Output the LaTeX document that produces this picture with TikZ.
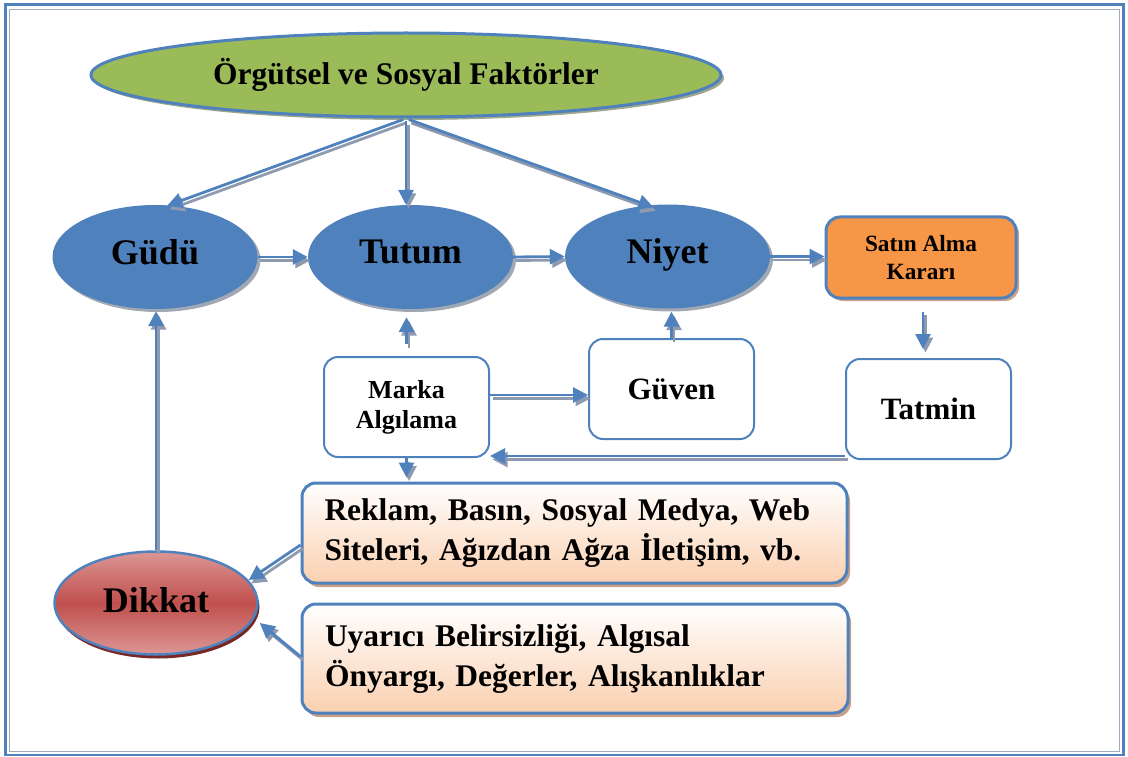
\documentclass[tikz,border=0pt]{standalone}
\usepackage{fontspec}
\setmainfont{Liberation Serif}
\usetikzlibrary{shapes.geometric,shadows,arrows.meta,calc}

\definecolor{blueM}{RGB}{79,129,189}
\definecolor{frameGray}{RGB}{160,170,185}
\definecolor{linkGray}{RGB}{142,154,175}
\definecolor{leafGreen}{RGB}{155,187,89}
\definecolor{greenShadow}{RGB}{160,168,140}
\definecolor{ovalShadow}{RGB}{160,168,180}
\definecolor{buyOrange}{RGB}{247,150,70}
\definecolor{buyShadow}{RGB}{201,163,138}
\definecolor{peach}{RGB}{250,208,176}
\definecolor{peachShadow}{RGB}{200,160,135}
\definecolor{redMid}{RGB}{192,80,77}
\definecolor{redLight}{RGB}{220,150,148}
\definecolor{redShadow}{RGB}{120,40,38}

\tikzset{
  tip/.style={-{Triangle[length=15pt,width=15pt]}},
  link/.style={draw=blueM, line width=2.8pt, tip,
    preaction={draw=linkGray, line width=2.8pt, tip,
      transform canvas={xshift=2.5pt,yshift=-3.5pt}}},
  stage/.style={ellipse, fill=blueM, draw=none, inner sep=0pt,
    minimum width=205pt, minimum height=104pt,
    font=\fontsize{36}{40}\selectfont\bfseries, text depth=10pt,
    drop shadow={shadow xshift=3pt, shadow yshift=-3pt, fill=ovalShadow, opacity=1}},
  panel/.style={rectangle, rounded corners=14pt, draw=blueM, line width=2pt,
    fill=white, minimum width=165pt, minimum height=100pt, inner sep=0pt,
    align=center},
  source/.style={rectangle, rounded corners=14pt, draw=blueM, line width=3pt,
    top color=white, bottom color=peach, inner sep=0pt,
    text width=500pt, align=left,
    font=\fontsize{31.5}{40}\selectfont\bfseries,
    drop shadow={shadow xshift=3pt, shadow yshift=-4pt, fill=peachShadow, opacity=1}}
}

\begin{document}
\begin{tikzpicture}[x=1pt,y=-1pt]
\useasboundingbox (0,0) rectangle (1128,757);

% page frame
\draw[blueM, line width=2.6pt] (5.5,4.5) rectangle (1123.5,755);
\draw[frameGray, line width=1.4pt] (9.5,9.5) rectangle (1119.5,751.5);

% factors at the top
\node[ellipse, fill=leafGreen, draw=blueM, line width=3pt, inner sep=0pt,
  minimum width=630pt, minimum height=84pt,
  font=\fontsize{31.5}{36}\selectfont\bfseries,
  drop shadow={shadow xshift=3pt, shadow yshift=-3pt, fill=greenShadow, opacity=1}]
  (org) at (406,75) {Örgütsel ve Sosyal Faktörler};

% main chain
\node[stage] (gudu)  at (155,257) {Güdü};
\node[stage] (tutum) at (410.5,257) {Tutum};
\node[stage] (niyet) at (667.5,256.5) {Niyet};

\node[rectangle, rounded corners=14pt, fill=buyOrange, draw=blueM, line width=3pt,
  minimum width=190pt, minimum height=81pt, inner sep=0pt, align=center,
  font=\fontsize{23.3}{28}\selectfont\bfseries,
  drop shadow={shadow xshift=3pt, shadow yshift=-3pt, fill=buyShadow, opacity=1}]
  (satin) at (921,257.5) {Satın Alma\\Kararı};

% boxes below the chain
\node[panel, font=\fontsize{26}{30}\selectfont\bfseries] (marka) at (406.5,407) {Marka\\Algılama};
\node[panel, font=\fontsize{31}{36}\selectfont\bfseries] (guven) at (671.5,389) {Güven};
\node[panel, font=\fontsize{31}{36}\selectfont\bfseries] (tatmin) at (928.5,409) {Tatmin};

\node[source, minimum width=545pt, minimum height=100pt] (reklam) at (574.5,533)
  {Reklam, Basın, Sosyal Medya, Web\\Siteleri, Ağızdan Ağza İletişim, vb.};
\node[source, minimum width=546pt, minimum height=109pt] (uyarici) at (575,658.5)
  {Uyarıcı Belirsizliği, Algısal\\Önyargı, Değerler, Alışkanlıklar};

% attention
\node[ellipse, top color=redLight, bottom color=redLight, middle color=redMid,
  draw=blueM, line width=2.5pt, inner sep=0pt,
  minimum width=203pt, minimum height=103pt,
  font=\fontsize{36}{40}\selectfont\bfseries, text depth=6pt,
  drop shadow={shadow xshift=2pt, shadow yshift=-4pt, fill=redShadow, opacity=1}]
  (dikkat) at (156,603) {Dikkat};

% helper points for the connectors
\coordinate (mgStart) at ($(marka.east)+(0,-12)$);
\coordinate (tmStart) at ($(tatmin.south west)+(0,-4)$);
\coordinate (stStart) at ($(satin.south)+(2,0)$);
\coordinate (rdEnd)   at ($(dikkat.east)+(-10,-23)$);
\coordinate (udEnd)   at ($(dikkat.east)+(1,20)$);
\coordinate (rdStart) at ($(reklam.west)+(0,12)$);
\coordinate (udStart) at ($(uyarici.west)+(0,-2)$);

% connectors
\draw[link, shorten <=3pt] (org.south) -- ($(gudu.north)+(12,1)$);
\draw[link, shorten <=3pt] (org.south) -- (org.south |- tutum.north);
\draw[link, shorten <=3pt] (org.south) -- ($(niyet.north)+(-14,3)$);

\draw[link] (gudu.east) -- (tutum.west);
\draw[link] (tutum.east) -- (niyet.west);
\draw[link] (niyet.east) -- (niyet.east -| satin.west);

\draw[link, shorten <=12pt, shorten >=8pt] (marka.north) -- (marka.north |- tutum.south);
\draw[link, shorten >=3pt] (guven.north) -- (guven.north |- niyet.south);
\draw[link] (mgStart) -- (mgStart -| guven.west);
\draw[link] (tmStart) -- (tmStart -| marka.east);
\draw[link, shorten >=4pt] (marka.south) -- (marka.south |- reklam.north);
\draw[link, shorten <=12pt, shorten >=9pt] (stStart) -- (stStart |- tatmin.north);

\draw[link, shorten >=2pt] (dikkat.north) -- (dikkat.north |- gudu.south);
\draw[link] (rdStart) -- (rdEnd);
\draw[link] (udStart) -- (udEnd);

\end{tikzpicture}
\end{document}
